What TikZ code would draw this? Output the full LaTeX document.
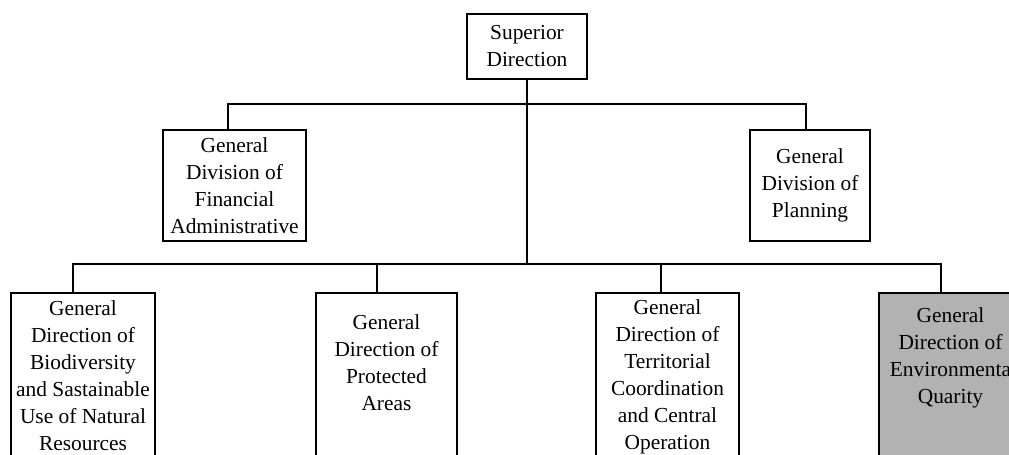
\documentclass[tikz,border=0pt]{standalone}
\usepackage{fontspec}
\setmainfont{Liberation Serif}
\usetikzlibrary{positioning}
\newcommand{\unitfont}{\fontsize{10.7}{13.5}\selectfont}
\tikzset{
  unit/.style={draw, line width=1pt, align=center, inner sep=0pt, font=\unitfont},
  frame/.style={draw, line width=1pt, inner sep=0pt, minimum height=89pt, anchor=north},
  txt/.style={align=center, inner sep=0pt, font=\unitfont},
  link/.style={line width=0.7pt},
}
\begin{document}
\begin{tikzpicture}[x=0.5pt, y=-0.5pt]
    \useasboundingbox (0,0) rectangle (1009,455);
    \clip (0,0) rectangle (1009,455);
    % top level
    \node[unit, minimum width=60pt, minimum height=32.5pt] (sup) at (527,46.5) {Superior\\Direction};
    \node[unit, minimum width=71.5pt, minimum height=55.5pt] (fin) at (234.5,185.5) {General\\Division of\\Financial\\Administrative};
    \node[unit, minimum width=60pt, minimum height=55.5pt] (plan) at (810,185.5) {General\\Division of\\Planning};
    % bottom row
    \node[frame, minimum width=72pt] (bio) at (83,292) {};
    \node[frame, minimum width=70.5pt] (prot) at (386.5,292) {};
    \node[frame, minimum width=71.5pt] (terr) at (667.5,292) {};
    \node[frame, minimum width=71.5pt, fill=black!30] (env) at (950.5,292) {};
    \node[txt, below=4pt of bio.north] (biotxt) {General\\Direction of\\Biodiversity\\and Sastainable\\Use of Natural\\Resources};
    \node[txt, below=11pt of prot.north] (prottxt) {General\\Direction of\\Protected\\Areas};
    \node[txt, below=3.5pt of terr.north] (terrtxt) {General\\Direction of\\Territorial\\Coordination\\and Central\\Operation};
    \node[txt, below=7.5pt of env.north] (envtxt) {General\\Direction of\\Environmenta\hspace*{5pt}\\Quarity};
    % connectors
    \coordinate (bus1) at (527,104);
    \coordinate (bus2) at (527,264);
    \draw[link] (sup.south) -- (bus2);
    \draw[link] ([xshift=-3.25pt]fin.north) |- (bus1) -| ([xshift=-2pt]plan.north);
    \draw[link] ([xshift=-5pt]bio.north) |- (bus2) -| ([xshift=-4.75pt]env.north);
    \draw[link] ([xshift=-4.75pt]prot.north) -- ([xshift=-4.75pt]prot.north |- bus2);
    \draw[link] ([xshift=-3.25pt]terr.north) -- ([xshift=-3.25pt]terr.north |- bus2);
\end{tikzpicture}
\end{document}
